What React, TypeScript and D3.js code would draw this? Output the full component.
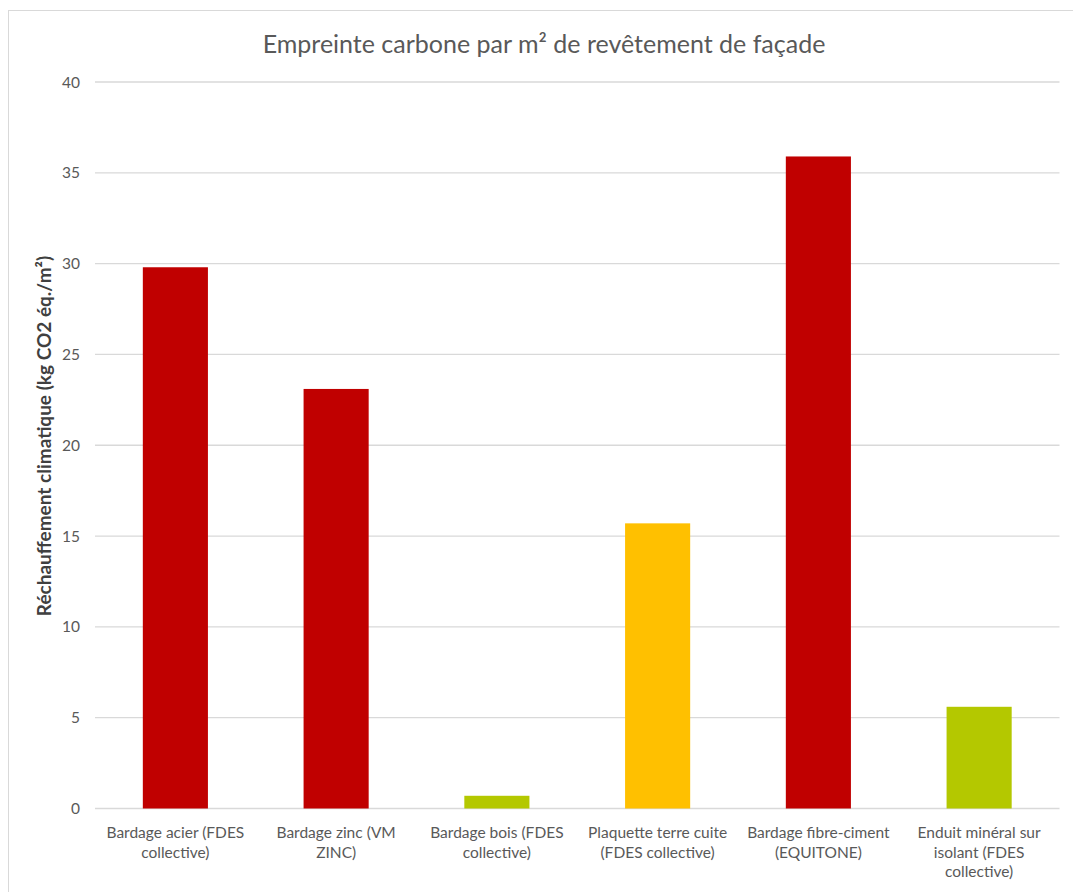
import React from "react";
import * as d3 from "d3";

const categories: string[] = [
  "Bardage acier (FDES\ncollective)",
  "Bardage zinc (VM\nZINC)",
  "Bardage bois (FDES\ncollective)",
  "Plaquette terre cuite\n(FDES collective)",
  "Bardage fibre-ciment\n(EQUITONE)",
  "Enduit minéral sur\nisolant (FDES\ncollective)",
];
const values: number[] = [29.8, 23.1, 0.7, 15.7, 35.9, 5.6];
const barColors: string[] = ["#C00000", "#C00000", "#B4C800", "#FFC000", "#C00000", "#B4C800"];
const yTicks: number[] = [0, 5, 10, 15, 20, 25, 30, 35, 40];
const title = "Empreinte carbone par m² de revêtement de façade";
const yTitle = "Réchauffement climatique (kg CO2 éq./m²)";

const W = 1073;
const H = 892;
const FONT = "Lato, 'Open Sans', sans-serif";

export default function App() {
  const x = d3.scaleBand<string>().domain(categories).range([95, 1059.5]).padding(0);
  const y = d3.scaleLinear().domain([0, 40]).range([808.5, 82]);
  const barW = x.bandwidth() * 0.405;

  return (
    <svg
      width={W}
      height={H}
      style={{ position: "absolute", left: 0, top: 0, background: "#fff" }}
    >
      <rect x={0} y={0} width={W} height={H} fill="#fff" />
      <rect x={8.5} y={10.5} width={1200} height={1000} fill="none" stroke="#D9D9D9" strokeWidth={1} />
      <text x={544} y={53} textAnchor="middle" fontFamily={FONT} fontSize={25} fill="#595959">
        {title}
      </text>
      {yTicks.map((t) => (
        <g key={t}>
          <line x1={95} x2={1059.5} y1={y(t)} y2={y(t)} stroke="#D9D9D9" strokeWidth={1.3} />
          <text x={80} y={y(t) + 5.5} textAnchor="end" fontFamily={FONT} fontSize={15.5} fill="#595959">
            {t}
          </text>
        </g>
      ))}
      {categories.map((c, i) => (
        <rect
          key={c}
          x={x(c)! + (x.bandwidth() - barW) / 2}
          y={y(values[i])}
          width={barW}
          height={y(0) - y(values[i])}
          fill={barColors[i]}
        />
      ))}
      {categories.map((c) => (
        <text
          key={c}
          textAnchor="middle"
          fontFamily={FONT}
          fontSize={15.5}
          fill="#595959"
        >
          {c.split("\n").map((ln, j) => (
            <tspan key={j} x={x(c)! + x.bandwidth() / 2} y={838 + j * 19.5}>
              {ln}
            </tspan>
          ))}
        </text>
      ))}
      <text
        transform={`translate(51,436) rotate(-90)`}
        textAnchor="middle"
        fontFamily={FONT}
        fontSize={19}
        fontWeight="bold"
        fill="#404040"
      >
        {yTitle}
      </text>
    </svg>
  );
}
